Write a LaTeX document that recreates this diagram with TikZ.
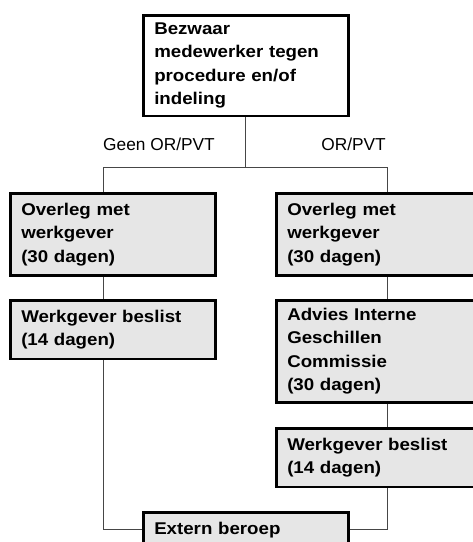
\documentclass[tikz,border=0pt]{standalone}
\usepackage{fontspec}
\setmainfont{Liberation Sans}
\newfontfamily\boxfont[FakeStretch=1.1]{Liberation Sans}
\definecolor{boxgray}{RGB}{230,230,230}
\definecolor{linegray}{RGB}{70,70,70}

\begin{document}
\begin{tikzpicture}[x=1pt,y=-1pt,
    stap/.style={draw,line width=2.5pt,fill=boxgray,anchor=north west,
      text width=183pt,inner xsep=11pt,inner ysep=9.7pt,align=left,
      font=\boxfont\bfseries\fontsize{17}{23.5}\selectfont},
    keuze/.style={inner sep=0pt,font=\fontsize{17.3}{20}\selectfont},
    lijn/.style={draw=linegray,line width=1pt}]
  \useasboundingbox (0,0) rectangle (473,542);
  \node[stap,fill=white,inner ysep=7.5pt] (B1) at (142,14) {Bezwaar\\medewerker tegen\\procedure en/of\\indeling};
  \node[keuze,anchor=base west] (L0) at (103,150) {Geen OR/PVT};
  \node[keuze,anchor=base east] (R0) at (386,150) {OR/PVT};
  \coordinate (S) at (244,167);
  \coordinate (SL) at (103,167);
  \coordinate (SR) at (387,167);
  % zonder OR/PVT
  \node[stap] (L1) at (9,192) {Overleg met\\werkgever\\(30 dagen)};
  \node[stap] (L2) at (9,299) {Werkgever beslist\\(14 dagen)};
  % met OR/PVT
  \node[stap] (R1) at (275,192) {Overleg met\\werkgever\\(30 dagen)};
  \node[stap,inner ysep=7.8pt] (R2) at (275,299) {Advies Interne\\Geschillen\\Commissie\\(30 dagen)};
  \node[stap] (R3) at (275,427) {Werkgever beslist\\(14 dagen)};
  \node[stap] (B2) at (142,511) {Extern beroep};
  \path[lijn] (B1.south) -- (B1.south |- S) (SL) -- (SR);
  \path[lijn] (SL) -- (SL |- L1.north) (SL |- L1.south) -- (SL |- L2.north);
  \path[lijn] (SL |- L2.south) |- (B2.west);
  \path[lijn] (SR) -- (SR |- R1.north) (SR |- R1.south) -- (SR |- R2.north);
  \path[lijn] (SR |- R2.south) -- (SR |- R3.north);
  \path[lijn] (SR |- R3.south) |- (B2.east);
\end{tikzpicture}
\end{document}
